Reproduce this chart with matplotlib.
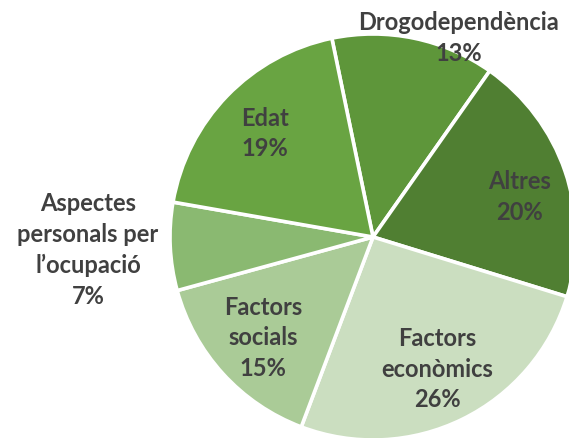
import matplotlib.pyplot as plt
import numpy as np

plt.rcParams['font.family'] = ['Lato', 'DejaVu Sans']

categories = ['Drogodependència', 'Altres', 'Factors\neconòmics', 'Factors\nsocials',
              'Aspectes\npersonals per\nl\u2019ocupació', 'Edat']
shares = [13, 20, 26, 15, 7, 19]
colours = ['#5E963A', '#507F32', '#CBDEC0', '#AACB97', '#8AB971', '#69A442']

W, H = 569, 439
fig = plt.figure(figsize=(W / 100, H / 100), dpi=100)
ax = fig.add_axes([0, 0, 1, 1])

cx, cy, R = 373, H - 238, 203
wedges, _ = ax.pie(shares, colors=colours, startangle=101.7, counterclock=False,
                   center=(cx, cy), radius=R, frame=True,
                   wedgeprops=dict(edgecolor='white', linewidth=2.6))
ax.set_xlim(0, W)
ax.set_ylim(0, H)
ax.set_aspect('equal')
ax.axis('off')

# label distance (fraction of radius); two labels sit outside the pie
dist = [1.0, 0.75, 0.72, 0.73, 1.0, 0.74]
outside = {'Drogodependència': (459, H - 38), 'Aspectes': (88, H - 250),
           'Altres': (520, H - 197)}
for w, name, val, d in zip(wedges, categories, shares, dist):
    ang = np.deg2rad((w.theta1 + w.theta2) / 2)
    x = cx + d * R * np.cos(ang)
    y = cy + d * R * np.sin(ang)
    key = name.split('\n')[0]
    if key in outside:
        x, y = outside[key]
    ax.text(x, y, f'{name}\n{val}%', ha='center', va='center', fontsize=17,
            fontweight='bold', color='#404040', linespacing=1.4)

fig.savefig('out.png', dpi=100)
